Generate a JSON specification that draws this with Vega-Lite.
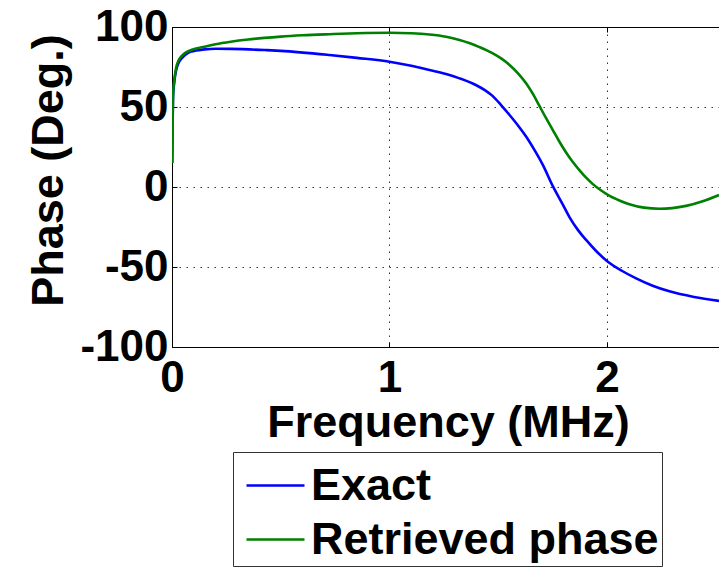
{
  "$schema": "https://vega.github.io/schema/vega-lite/v6.json",
  "width": 547,
  "height": 320,
  "autosize": {"type": "none"},
  "padding": {"left": 172, "top": 27, "right": 0, "bottom": 224},
  "background": "white",
  "config": {
    "view": {"stroke": null},
    "font": "Liberation Sans",
    "axis": {
      "labelFont": "Liberation Sans",
      "labelFontSize": 44,
      "labelFontWeight": "bold",
      "labelColor": "#000000",
      "labelFlush": false,
      "labelExpr": "'' + datum.value",
      "titleFont": "Liberation Sans",
      "titleFontSize": 45,
      "titleFontWeight": "bold",
      "titleColor": "#000000",
      "domainColor": "#000000",
      "domainWidth": 1,
      "tickColor": "#000000",
      "tickSize": -5,
      "tickWidth": 1,
      "gridColor": "#333333",
      "gridDash": [1.5, 5.5],
      "gridWidth": 1,
      "gridOpacity": 1
    }
  },
  "data": {
    "values": [
      {"series": "Exact", "f": 0.001, "v": 15},
      {"series": "Exact", "f": 0.003, "v": 40},
      {"series": "Exact", "f": 0.005, "v": 57},
      {"series": "Exact", "f": 0.01, "v": 65},
      {"series": "Exact", "f": 0.019, "v": 73},
      {"series": "Exact", "f": 0.03, "v": 77.5},
      {"series": "Exact", "f": 0.042, "v": 80},
      {"series": "Exact", "f": 0.065, "v": 83},
      {"series": "Exact", "f": 0.088, "v": 84.6},
      {"series": "Exact", "f": 0.15, "v": 86},
      {"series": "Exact", "f": 0.2, "v": 86.4},
      {"series": "Exact", "f": 0.27, "v": 86.3},
      {"series": "Exact", "f": 0.425, "v": 85.6},
      {"series": "Exact", "f": 0.5, "v": 85.1},
      {"series": "Exact", "f": 0.724, "v": 82.5},
      {"series": "Exact", "f": 0.85, "v": 80.7},
      {"series": "Exact", "f": 1.0, "v": 78.3},
      {"series": "Exact", "f": 1.1, "v": 75.8},
      {"series": "Exact", "f": 1.184, "v": 73.1},
      {"series": "Exact", "f": 1.26, "v": 70.6},
      {"series": "Exact", "f": 1.322, "v": 67.9},
      {"series": "Exact", "f": 1.399, "v": 63.6},
      {"series": "Exact", "f": 1.44, "v": 60.4},
      {"series": "Exact", "f": 1.475, "v": 56.8},
      {"series": "Exact", "f": 1.513, "v": 51.2},
      {"series": "Exact", "f": 1.552, "v": 45},
      {"series": "Exact", "f": 1.59, "v": 38.6},
      {"series": "Exact", "f": 1.628, "v": 31.5},
      {"series": "Exact", "f": 1.667, "v": 23},
      {"series": "Exact", "f": 1.705, "v": 13.8},
      {"series": "Exact", "f": 1.751, "v": 0.5},
      {"series": "Exact", "f": 1.797, "v": -11},
      {"series": "Exact", "f": 1.828, "v": -19},
      {"series": "Exact", "f": 1.866, "v": -26.8},
      {"series": "Exact", "f": 1.904, "v": -33.1},
      {"series": "Exact", "f": 1.95, "v": -40},
      {"series": "Exact", "f": 2.004, "v": -46.7},
      {"series": "Exact", "f": 2.07, "v": -52.5},
      {"series": "Exact", "f": 2.134, "v": -57.1},
      {"series": "Exact", "f": 2.21, "v": -61.7},
      {"series": "Exact", "f": 2.287, "v": -65.2},
      {"series": "Exact", "f": 2.4, "v": -68.7},
      {"series": "Exact", "f": 2.515, "v": -71.2},
      {"series": "Retrieved phase", "f": 0.001, "v": 15},
      {"series": "Retrieved phase", "f": 0.003, "v": 41},
      {"series": "Retrieved phase", "f": 0.005, "v": 58},
      {"series": "Retrieved phase", "f": 0.01, "v": 66},
      {"series": "Retrieved phase", "f": 0.019, "v": 74.5},
      {"series": "Retrieved phase", "f": 0.03, "v": 79},
      {"series": "Retrieved phase", "f": 0.042, "v": 81.5},
      {"series": "Retrieved phase", "f": 0.065, "v": 84.2},
      {"series": "Retrieved phase", "f": 0.088, "v": 85.6},
      {"series": "Retrieved phase", "f": 0.15, "v": 87.7},
      {"series": "Retrieved phase", "f": 0.2, "v": 89.2},
      {"series": "Retrieved phase", "f": 0.27, "v": 90.8},
      {"series": "Retrieved phase", "f": 0.35, "v": 92.2},
      {"series": "Retrieved phase", "f": 0.425, "v": 93.2},
      {"series": "Retrieved phase", "f": 0.5, "v": 94},
      {"series": "Retrieved phase", "f": 0.6, "v": 94.8},
      {"series": "Retrieved phase", "f": 0.724, "v": 95.5},
      {"series": "Retrieved phase", "f": 0.85, "v": 96.1},
      {"series": "Retrieved phase", "f": 1.0, "v": 96.4},
      {"series": "Retrieved phase", "f": 1.1, "v": 96.1},
      {"series": "Retrieved phase", "f": 1.184, "v": 95.3},
      {"series": "Retrieved phase", "f": 1.26, "v": 93.9},
      {"series": "Retrieved phase", "f": 1.322, "v": 91.9},
      {"series": "Retrieved phase", "f": 1.37, "v": 89.8},
      {"series": "Retrieved phase", "f": 1.414, "v": 87.4},
      {"series": "Retrieved phase", "f": 1.475, "v": 83.5},
      {"series": "Retrieved phase", "f": 1.515, "v": 80.2},
      {"series": "Retrieved phase", "f": 1.552, "v": 76.3},
      {"series": "Retrieved phase", "f": 1.59, "v": 71.2},
      {"series": "Retrieved phase", "f": 1.628, "v": 64.8},
      {"series": "Retrieved phase", "f": 1.66, "v": 58},
      {"series": "Retrieved phase", "f": 1.69, "v": 50.5},
      {"series": "Retrieved phase", "f": 1.72, "v": 43},
      {"series": "Retrieved phase", "f": 1.751, "v": 35.6},
      {"series": "Retrieved phase", "f": 1.78, "v": 28.6},
      {"series": "Retrieved phase", "f": 1.812, "v": 21.6},
      {"series": "Retrieved phase", "f": 1.843, "v": 15.6},
      {"series": "Retrieved phase", "f": 1.874, "v": 10.4},
      {"series": "Retrieved phase", "f": 1.904, "v": 5.8},
      {"series": "Retrieved phase", "f": 1.935, "v": 1.8},
      {"series": "Retrieved phase", "f": 1.97, "v": -1.9},
      {"series": "Retrieved phase", "f": 2.004, "v": -4.9},
      {"series": "Retrieved phase", "f": 2.057, "v": -8.4},
      {"series": "Retrieved phase", "f": 2.103, "v": -10.8},
      {"series": "Retrieved phase", "f": 2.17, "v": -12.9},
      {"series": "Retrieved phase", "f": 2.241, "v": -13.6},
      {"series": "Retrieved phase", "f": 2.3, "v": -13.2},
      {"series": "Retrieved phase", "f": 2.364, "v": -11.8},
      {"series": "Retrieved phase", "f": 2.44, "v": -8.9},
      {"series": "Retrieved phase", "f": 2.515, "v": -5}
    ]
  },
  "layer": [
    {
      "transform": [{"filter": "datum.series === 'Exact'"}],
      "mark": {"type": "line", "strokeWidth": 2.6, "clip": true, "interpolate": "monotone"},
      "encoding": {
        "x": {
          "field": "f",
          "type": "quantitative",
          "scale": {"domain": [0, 2.515], "nice": false, "zero": false},
          "axis": {
            "orient": "bottom",
            "values": [0, 1, 2],
            "grid": true,
            "labelPadding": 14,
            "title": "Frequency (MHz)",
            "titleX": 276,
            "titleY": 89,
            "titleBaseline": "alphabetic",
            "titleAnchor": "middle"
          }
        },
        "y": {
          "field": "v",
          "type": "quantitative",
          "scale": {"domain": [-100, 100], "nice": false},
          "axis": {
            "values": [-100, -50, 0, 50, 100],
            "grid": true,
            "labelPadding": 9,
            "title": "Phase (Deg.)",
            "titleX": -110,
            "titleY": 143,
            "titleAngle": -90,
            "titleBaseline": "alphabetic",
            "titleAnchor": "middle"
          }
        },
        "color": {
          "field": "series",
          "type": "nominal",
          "scale": {"domain": ["Exact", "Retrieved phase"], "range": ["#0000ff", "#008000"]},
          "legend": {
            "orient": "none",
            "legendX": 61,
            "legendY": 425,
            "direction": "vertical",
            "title": null,
            "symbolType": "stroke",
            "symbolSize": 3364,
            "symbolStrokeWidth": 2.6,
            "labelFont": "Liberation Sans",
            "labelFontSize": 45,
            "labelFontWeight": "bold",
            "labelColor": "#000000",
            "labelLimit": 600,
            "labelOffset": 5,
            "symbolOffset": 9,
            "strokeColor": "#333333",
            "fillColor": "#ffffff",
            "padding": 3,
            "rowPadding": -2
          }
        }
      }
    },
    {
      "transform": [{"filter": "datum.series === 'Retrieved phase'"}],
      "mark": {"type": "line", "strokeWidth": 2.6, "clip": true, "interpolate": "monotone"},
      "encoding": {
        "x": {
          "field": "f",
          "type": "quantitative",
          "scale": {"domain": [0, 2.515], "nice": false, "zero": false},
          "axis": {
            "orient": "top",
            "values": [0, 1, 2],
            "grid": false,
            "labels": false,
            "title": null
          }
        },
        "y": {"field": "v", "type": "quantitative"},
        "color": {"field": "series", "type": "nominal"}
      }
    }
  ],
  "resolve": {"axis": {"x": "independent"}}
}
